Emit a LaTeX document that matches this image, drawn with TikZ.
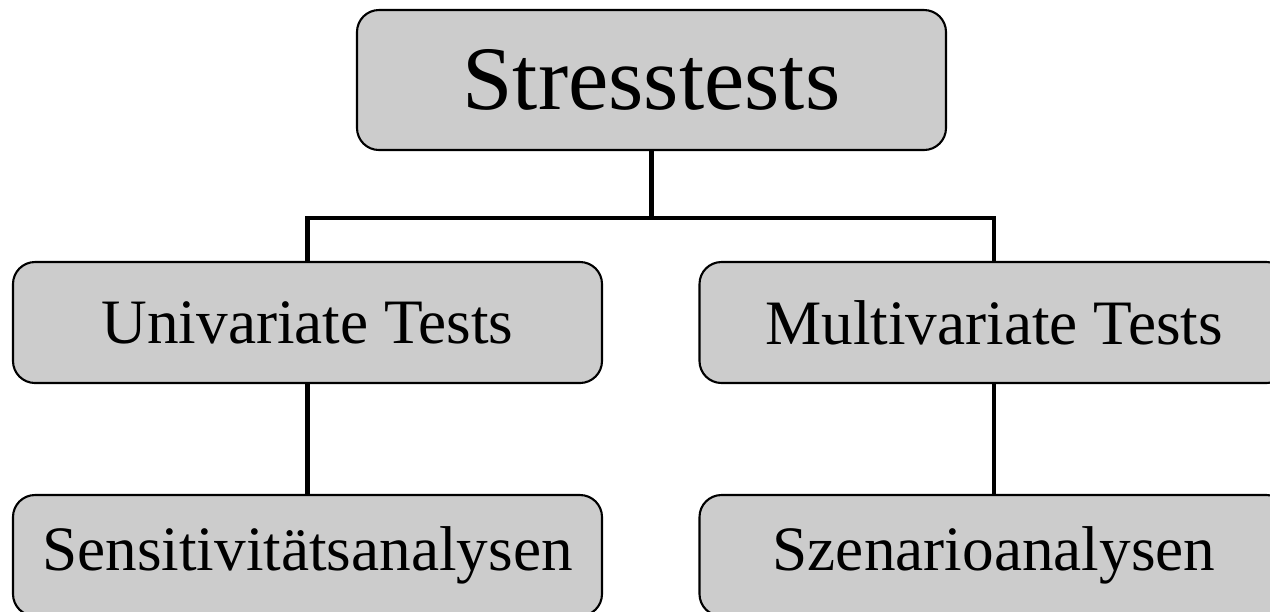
\documentclass[tikz,border=0pt]{standalone}
\usepackage{fontspec}
\setmainfont{Liberation Serif}

\begin{document}
\begin{tikzpicture}
[-,line width=1.4pt,%
  every node/.style={shape=rectangle,rounded corners=0.22cm,draw,line width=0.6pt,
    fill=black!20,minimum width=5.89cm,minimum height=1.21cm,inner sep=0pt},%
  x=1cm,y=1cm]
\useasboundingbox (0,0) rectangle (12.70,-6.11);
\node[minimum height=1.40cm,font=\fontsize{25.8}{30}\selectfont] (stress) at (6.515,-0.80) {Stresstests};
%%
\node[font=\fontsize{18}{22}\selectfont] (univ) at (3.075,-3.225) {Univariate Tests};
\node[font=\fontsize{18}{22}\selectfont] (multi) at (9.94,-3.225) {Multivariate Tests};
%%
\node[font=\fontsize{18}{22}\selectfont] (sens) at (3.075,-5.555) {Sensitivitätsanalysen};
\node[font=\fontsize{18}{22}\selectfont] (szen) at (9.94,-5.555) {Szenarioanalysen};
%%
\coordinate (split) at (6.515,-2.18);
\draw (stress.south) -- (split);
\draw (univ.north) |- (split) -| (multi.north);
\path
\foreach \startNode/\endNode in {univ/sens, multi/szen}
{
  (\startNode.south) edge (\endNode.north)
};
\end{tikzpicture}
\end{document}
